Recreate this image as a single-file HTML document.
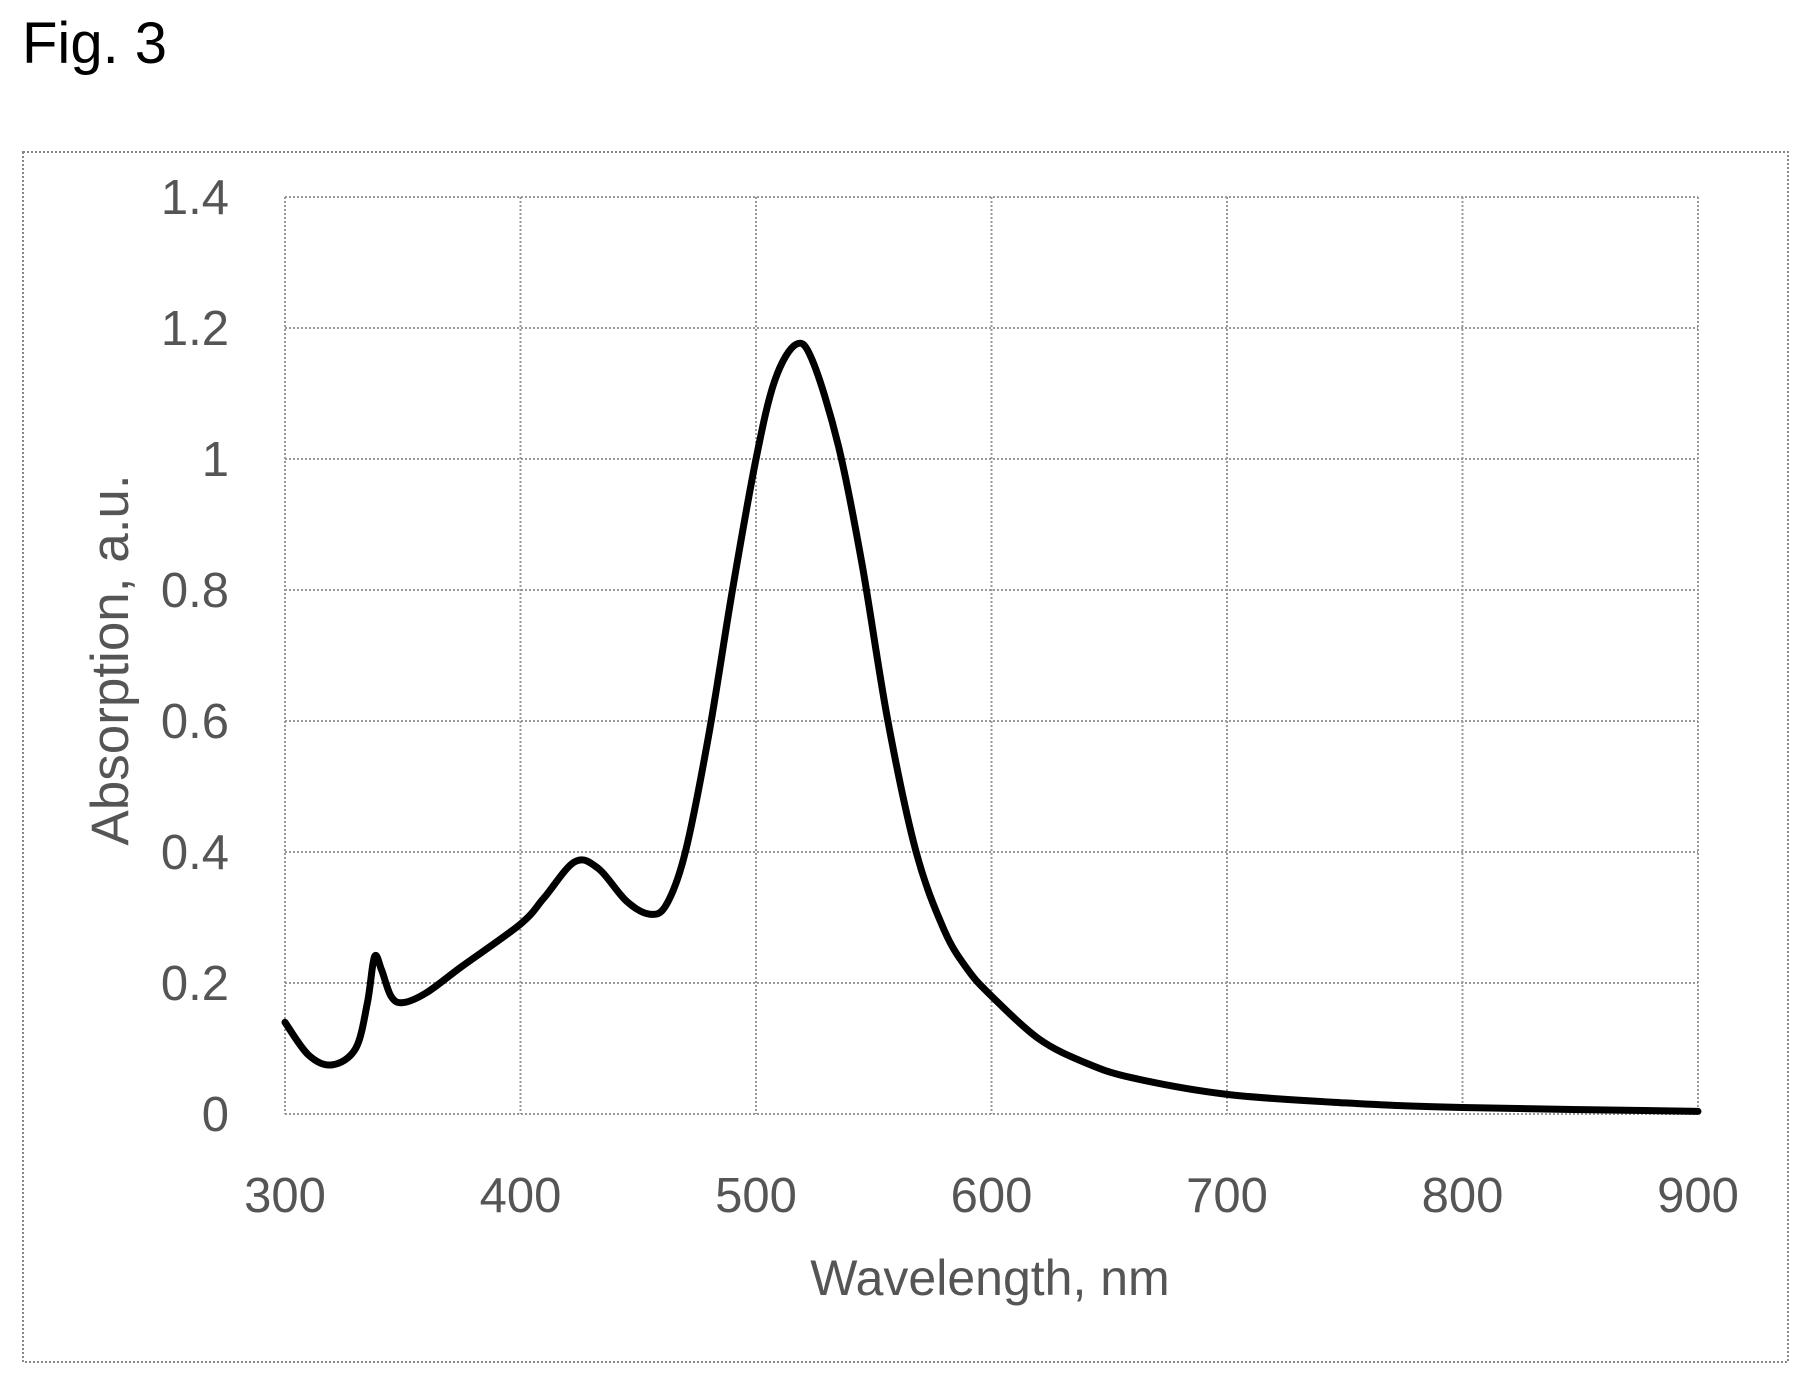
<!DOCTYPE html>
<html><head><meta charset="utf-8"><style>
html,body{margin:0;padding:0;background:#fff;}
svg{display:block}
</style></head><body>
<svg id="s" width="1810" height="1384" xmlns="http://www.w3.org/2000/svg">
<text x="22" y="63" font-family="Liberation Sans, sans-serif" font-size="58" fill="#000">Fig. 3</text>
<rect x="23" y="152" width="1765" height="1210" fill="none" stroke="#888" stroke-width="2" stroke-dasharray="2 2"/>
<g id="grid" stroke="#999" stroke-width="2" stroke-dasharray="2 2" fill="none"></g>
<g id="lab" font-family="Liberation Sans, sans-serif" font-size="49" fill="#555"></g>
<text x="990" y="1295" text-anchor="middle" font-family="Liberation Sans, sans-serif" font-size="50" fill="#555">Wavelength, nm</text>
<text transform="translate(128,660) rotate(-90)" text-anchor="middle" font-family="Liberation Sans, sans-serif" font-size="53" fill="#555">Absorption, a.u.</text>
<path id="c" fill="none" stroke="#000" stroke-width="7" stroke-linejoin="round" stroke-linecap="round"/>
</svg>
<script>
var X=function(w){return 285+(w-300)*1413/600;},Y=function(a){return 1114-a*917/1.4;};
var g=document.getElementById('grid'),l=document.getElementById('lab'),ns='http://www.w3.org/2000/svg';
function el(p,t,a,txt){var e=document.createElementNS(ns,t);for(var k in a)e.setAttribute(k,a[k]);if(txt)e.textContent=txt;p.appendChild(e);}
for(var i=0;i<=7;i++){var y=Y(i*0.2);el(g,'line',{x1:285,x2:1698,y1:y,y2:y});
 el(l,'text',{x:229,y:y+17,'text-anchor':'end'},i==0?'0':i==5?'1':(i*0.2).toFixed(1));}
for(var w=300;w<=900;w+=100){var x=X(w);el(g,'line',{x1:x,x2:x,y1:197,y2:1114});
 el(l,'text',{x:x,y:1212,'text-anchor':'middle'},String(w));}
var d=[[300,.14],[310,.09],[320,.075],[330,.10],[335,.17],[338,.24],[341,.22],[345,.18],[350,.17],[360,.185],[375,.225],[400,.29],[410,.33],[423,.385],[433,.375],[445,.325],[455,.305],[462,.32],[470,.40],[480,.58],[490,.80],[500,1.0],[508,1.12],[517,1.175],[524,1.15],[535,1.02],[545,.84],[556,.6],[568,.4],[580,.28],[590,.22],[600,.18],[620,.115],[640,.078],[660,.055],[700,.03],[750,.017],[800,.01],[900,.004]];
var p=d.map(function(q){return [X(q[0]),Y(q[1])];});
var s='M'+p[0][0]+','+p[0][1];
for(var i=0;i<p.length-1;i++){var p0=p[Math.max(0,i-1)],p1=p[i],p2=p[i+1],p3=p[Math.min(p.length-1,i+2)];
 s+=' C'+(p1[0]+(p2[0]-p0[0])/6)+','+(p1[1]+(p2[1]-p0[1])/6)+' '+(p2[0]-(p3[0]-p1[0])/6)+','+(p2[1]-(p3[1]-p1[1])/6)+' '+p2[0]+','+p2[1];}
document.getElementById('c').setAttribute('d',s);
</script>
</body></html>
